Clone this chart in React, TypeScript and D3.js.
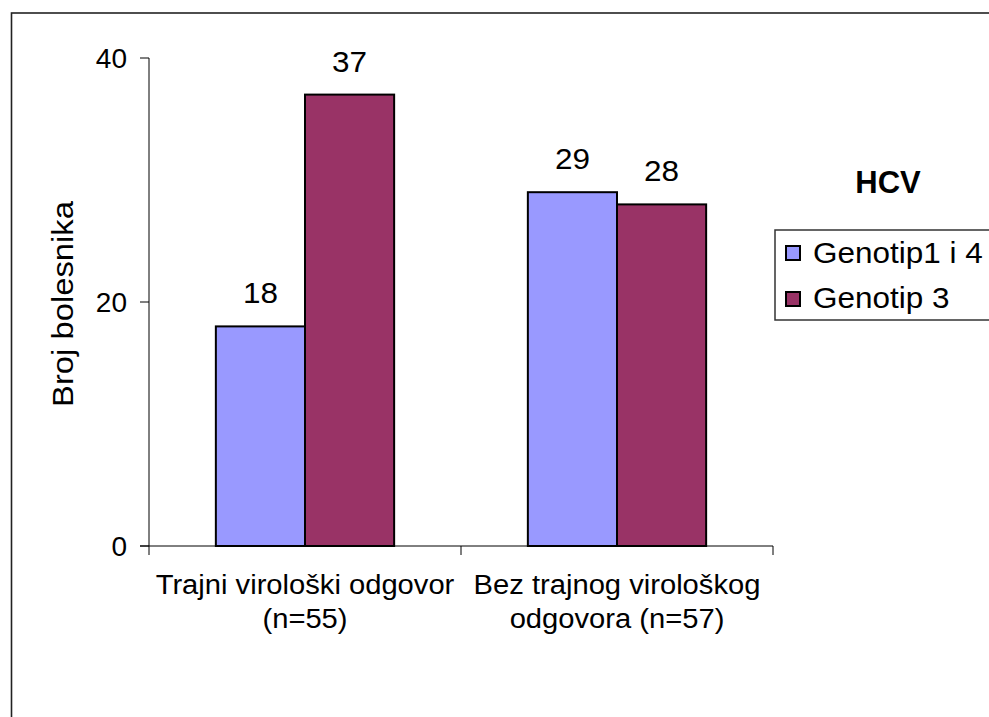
import React from "react";
import * as d3 from "d3";

const categories = ["Trajni virološki odgovor|(n=55)", "Bez trajnog virološkog|odgovora (n=57)"];
const seriesNames = ["Genotip1 i 4", "Genotip 3"];
const seriesValues = [
  [18, 29],
  [37, 28],
];
const seriesColors = ["#9999FF", "#993366"];
const yTicks = [0, 20, 40];
const yTitle = "Broj bolesnika";
const legendTitle = "HCV";

const FONT = "'Liberation Sans', Arial, sans-serif";

export default function App() {
  const W = 989;
  const H = 717;
  const plotLeft = 149;
  const plotRight = 773;
  const plotTop = 58;
  const plotBottom = 546;

  const y = d3.scaleLinear().domain([0, 40]).range([plotBottom, plotTop]);
  const x0 = d3.scaleBand().domain(categories).range([plotLeft, plotRight]).paddingInner(0).paddingOuter(0);
  const bw = x0.bandwidth();
  const barW = bw / 3.5;
  const x1 = d3
    .scaleBand()
    .domain(seriesNames)
    .range([(bw * 0.75) / 3.5, (bw * 0.75) / 3.5 + 2 * barW]);

  return (
    <div style={{ position: "fixed", left: 0, top: 0 }}>
      <svg width={W} height={H} style={{ display: "block", background: "#fff" }}>
        <rect x={11.5} y={13} width={1100} height={1000} fill="#fff" stroke="#222" strokeWidth={1.6} />
        {/* y axis */}
        <line x1={plotLeft} x2={plotLeft} y1={plotTop} y2={plotBottom} stroke="#000" strokeWidth={1} />
        {yTicks.map((t) => (
          <g key={t}>
            <line x1={plotLeft - 9} x2={plotLeft} y1={y(t)} y2={y(t)} stroke="#000" strokeWidth={1} />
            <text x={127} y={y(t) + 9.5} textAnchor="end" fontFamily={FONT} fontSize={28} fill="#000">
              {t}
            </text>
          </g>
        ))}
        {/* x axis */}
        <line x1={plotLeft - 9} x2={plotRight} y1={plotBottom} y2={plotBottom} stroke="#000" strokeWidth={1} />
        {[plotLeft, ...categories.map((c) => (x0(c) as number) + bw)].map((xx, i) => (
          <line key={i} x1={xx} x2={xx} y1={plotBottom} y2={plotBottom + 9} stroke="#000" strokeWidth={1} />
        ))}
        {/* bars */}
        {categories.map((c, ci) =>
          seriesNames.map((s, si) => {
            const v = seriesValues[si][ci];
            const bx = (x0(c) as number) + (x1(s) as number);
            return (
              <g key={c + s}>
                <rect
                  x={bx}
                  y={y(v)}
                  width={x1.bandwidth()}
                  height={plotBottom - y(v)}
                  fill={seriesColors[si]}
                  stroke="#000"
                  strokeWidth={2}
                />
                <text
                  transform={`translate(${bx + x1.bandwidth() / 2},${y(v) - 23}) scale(1.05,1)`}
                  textAnchor="middle"
                  fontFamily={FONT}
                  fontSize={30}
                  fill="#000"
                >
                  {v}
                </text>
              </g>
            );
          })
        )}
        {/* category labels */}
        {categories.map((c) => {
          const lines = c.split("|");
          const cx = (x0(c) as number) + bw / 2;
          return (
            <g key={c}>
              {lines.map((l, i) => (
                <text
                  key={i}
                  transform={`translate(${cx},${594 + i * 34}) scale(1.08,1)`}
                  textAnchor="middle"
                  fontFamily={FONT}
                  fontSize={27}
                  fill="#000"
                >
                  {l}
                </text>
              ))}
            </g>
          );
        })}
        {/* y title */}
        <text
          transform={`translate(73,304) rotate(-90) scale(1.13,1)`}
          textAnchor="middle"
          fontFamily={FONT}
          fontSize={29}
          fill="#000"
        >
          {yTitle}
        </text>
        {/* legend */}
        <text x={888} y={193} textAnchor="middle" fontFamily={FONT} fontSize={31} fontWeight="bold" fill="#000">
          {legendTitle}
        </text>
        <rect x={775} y={230} width={300} height={90} fill="#fff" stroke="#333" strokeWidth={1.5} />
        {seriesNames.map((s, i) => (
          <g key={s}>
            <rect x={786} y={246 + i * 46} width={14} height={14} fill={seriesColors[i]} stroke="#000" strokeWidth={2} />
            <text
              transform={`translate(813,${263 + i * 45}) scale(1.085,1)`}
              fontFamily={FONT}
              fontSize={29}
              fill="#000"
            >
              {s}
            </text>
          </g>
        ))}
      </svg>
    </div>
  );
}
